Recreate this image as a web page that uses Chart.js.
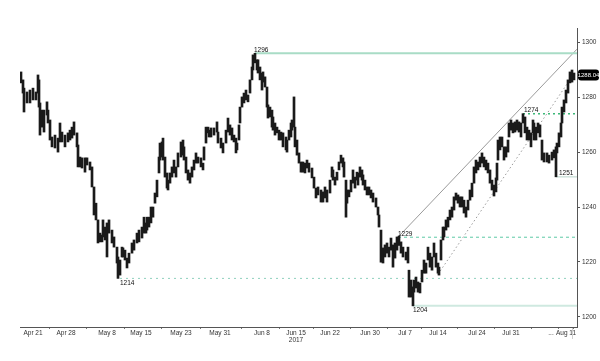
<!DOCTYPE html>
<html><head><meta charset="utf-8">
<script src="https://cdn.jsdelivr.net/npm/chart.js@4.4.1/dist/chart.umd.min.js"></script>
<style>html,body{margin:0;padding:0;background:#fff}canvas{display:block}</style>
</head><body>
<canvas id="c" width="600" height="361"></canvas>
<script>
// Gold, intraday ranges. sessionDay = trading days since 19 Apr 2017
const sessionDay = [
0.15,0.45,0.6,1.05,1.5,1.95,2.4,2.7,2.85,3.0,
3.3,3.6,4.05,4.2,4.5,4.8,5.25,5.7,6.0,6.3,
6.75,7.2,7.5,7.8,8.1,8.55,8.7,9.0,9.3,9.75,
10.05,10.5,10.8,11.1,11.4,11.7,12.0,12.3,12.45,12.75,
13.05,13.35,13.8,14.1,14.55,14.7,15.0,15.3,15.45,15.75,
16.05,16.35,16.8,17.1,17.55,17.85,18.3,18.6,18.9,19.05,
19.35,19.65,19.95,20.25,20.55,20.85,21.0,21.3,21.45,21.75,
22.05,22.2,22.5,22.8,23.1,23.4,23.7,24.15,24.45,24.6,
24.9,25.2,25.5,25.8,26.1,26.4,26.7,27.15,27.45,27.6,
27.9,28.2,28.35,28.65,29.1,29.55,29.7,30.15,30.45,30.9,
31.2,31.5,31.8,32.1,32.4,32.55,32.85,33.0,33.3,33.6,
33.9,34.2,34.5,34.8,34.95,35.25,35.55,35.7,36.0,36.3,
36.45,36.75,37.05,37.2,37.5,37.8,37.95,38.25,38.55,38.85,
39.15,39.45,39.9,40.05,40.35,40.65,40.8,41.1,41.25,41.55,
41.85,42.15,42.45,42.75,43.05,43.35,43.8,44.1,44.4,44.7,
45.15,45.45,45.75,46.05,46.5,46.8,46.95,47.25,47.55,47.85,
48.15,48.45,48.6,48.9,49.05,49.35,49.65,49.95,50.25,50.55,
50.7,51.0,51.3,51.45,51.75,52.05,52.35,52.65,52.95,53.4,
53.7,53.85,54.15,54.45,54.75,55.05,55.35,55.65,55.95,56.25,
56.55,56.85,57.15,57.45,57.9,58.2,58.35,58.65,58.95,59.1,
59.4,59.7,60.0,60.3,60.6,60.9,61.2,61.5,61.8,62.1,
62.4,62.7,62.85,63.15,63.45,63.6,63.9,64.2,64.5,64.8,
65.1,65.4,65.7,66.0,66.3,66.6,66.9,67.2,67.5,67.8,
68.1,68.4,68.7,69.0,69.3,69.6,69.9,70.2,70.5,70.8,
71.1,71.4,71.55,71.7,72.0,72.3,72.6,72.9,73.2,73.35,
73.65,73.95,74.25,74.55,74.85,75.15,75.45,75.75,76.05,76.35,
76.65,76.95,77.1,77.4,77.7,78.0,78.3,78.6,79.05,79.35,
79.8,80.1,80.4,80.55,80.85,81.15,81.3,81.6,81.9,82.2,
82.5,82.8,83.1];

const highs = [
1289.2,1286.3,1283.3,1281.9,1282.6,1283.3,1281.9,1288.1,1286.3,1277.9,
1275.3,1275.3,1278.3,1275.3,1271.7,1265.5,1266.2,1265.1,1270.6,1267.3,
1266.2,1267.0,1268.0,1269.1,1271.0,1267.0,1262.6,1258.2,1257.9,1257.9,
1257.9,1256.4,1254.6,1247.3,1241.4,1235.3,1230.5,1229.8,1235.3,1232.7,
1234.2,1235.3,1231.6,1229.1,1225.4,1221.8,1220.7,1225.4,1225.1,1224.3,
1221.4,1223.2,1226.9,1228.0,1230.5,1231.6,1232.7,1236.3,1234.2,1236.3,
1236.3,1240.0,1240.0,1245.1,1249.8,1258.2,1263.3,1263.7,1265.1,1258.2,
1252.4,1249.8,1252.4,1254.6,1257.1,1254.6,1259.7,1263.7,1264.4,1261.9,
1258.2,1253.5,1252.4,1254.6,1257.1,1259.7,1258.2,1257.9,1256.0,1261.9,
1269.1,1269.1,1268.0,1268.8,1268.8,1271.0,1267.3,1265.1,1263.3,1268.0,
1272.4,1269.9,1268.8,1266.2,1265.1,1263.3,1269.9,1276.4,1280.1,1281.5,
1282.6,1280.8,1286.3,1291.0,1295.4,1296.0,1293.6,1293.6,1291.0,1288.8,
1289.2,1287.4,1283.7,1277.2,1276.4,1275.3,1272.8,1270.6,1269.1,1268.0,
1267.3,1267.0,1265.5,1264.4,1268.0,1270.6,1271.7,1280.1,1269.1,1264.4,
1259.7,1256.4,1256.4,1256.0,1257.1,1256.0,1254.2,1250.9,1246.9,1247.3,
1246.2,1245.5,1247.3,1246.2,1249.8,1254.6,1253.5,1250.9,1252.7,1256.4,
1258.9,1257.9,1256.4,1249.8,1246.2,1246.2,1249.8,1253.5,1250.9,1252.7,
1252.4,1254.6,1253.5,1251.7,1249.8,1247.3,1247.3,1246.2,1245.1,1243.3,
1240.0,1237.1,1231.6,1225.1,1226.2,1226.9,1225.4,1228.7,1226.2,1226.9,
1229.1,1229.4,1227.3,1225.4,1223.6,1225.4,1217.0,1213.4,1210.9,1213.4,
1214.5,1212.7,1212.3,1217.0,1220.7,1219.6,1225.4,1223.2,1221.8,1226.9,
1223.2,1219.6,1218.1,1228.0,1232.7,1232.7,1235.3,1236.3,1238.9,1240.0,
1243.7,1245.1,1244.4,1243.7,1243.7,1242.5,1240.0,1242.5,1246.2,1248.7,
1254.6,1257.1,1256.4,1258.2,1259.7,1258.2,1257.1,1256.0,1253.5,1249.8,
1248.0,1250.6,1256.0,1264.4,1265.5,1265.5,1261.9,1261.9,1264.4,1270.6,
1271.7,1270.6,1271.0,1271.7,1271.0,1270.6,1274.0,1272.8,1269.1,1268.0,
1267.0,1271.7,1270.6,1269.1,1270.6,1269.9,1264.4,1259.7,1259.7,1258.9,
1260.0,1260.8,1261.9,1263.3,1267.0,1270.6,1276.4,1279.0,1282.6,1286.3,
1289.2,1289.9,1288.8];

const lows = [
1285.2,1281.5,1274.6,1277.9,1277.9,1279.0,1279.0,1281.5,1276.4,1266.2,
1269.1,1267.3,1273.5,1270.6,1264.4,1261.9,1261.5,1260.0,1263.7,1263.7,
1261.9,1263.7,1264.4,1265.1,1266.2,1261.9,1254.6,1254.6,1254.2,1252.7,
1255.3,1253.5,1247.3,1237.1,1235.3,1226.9,1227.3,1227.3,1229.1,1228.0,
1221.8,1230.5,1226.9,1225.4,1219.6,1214.0,1215.2,1221.8,1221.8,1220.7,
1217.8,1219.6,1223.2,1224.3,1226.9,1227.3,1228.7,1230.5,1230.5,1231.6,
1232.7,1234.2,1236.3,1241.4,1243.7,1252.4,1257.1,1258.2,1257.1,1250.9,
1246.9,1246.2,1248.7,1250.9,1252.4,1250.9,1254.6,1258.2,1258.9,1257.1,
1252.4,1249.8,1248.7,1250.9,1253.5,1256.0,1256.0,1254.6,1253.5,1257.1,
1263.3,1267.0,1265.5,1265.5,1266.2,1267.3,1263.3,1261.5,1259.7,1263.3,
1267.3,1266.2,1264.4,1263.7,1259.7,1260.8,1264.4,1270.6,1276.4,1277.9,
1279.0,1278.3,1281.5,1286.3,1289.9,1292.5,1289.9,1288.8,1286.3,1282.6,
1285.5,1283.7,1276.4,1272.4,1272.8,1269.1,1268.0,1266.2,1267.0,1264.4,
1264.4,1261.9,1260.8,1260.0,1264.4,1265.5,1268.0,1269.1,1261.9,1258.9,
1256.0,1252.7,1252.7,1252.4,1254.2,1252.7,1250.6,1246.9,1243.3,1244.4,
1241.8,1241.8,1243.3,1241.8,1245.1,1250.9,1249.8,1248.0,1249.8,1253.5,
1256.0,1254.6,1250.9,1236.3,1241.4,1243.7,1245.5,1248.7,1246.9,1249.8,
1248.0,1250.9,1249.8,1248.0,1246.2,1244.4,1244.4,1243.3,1241.8,1240.0,
1237.1,1232.7,1219.9,1219.6,1221.8,1223.2,1221.8,1224.3,1218.1,1221.4,
1224.3,1226.0,1223.2,1221.8,1220.7,1219.6,1207.2,1207.2,1204.0,1209.0,
1210.5,1209.0,1208.7,1212.7,1215.9,1215.9,1220.7,1218.1,1217.0,1221.8,
1218.1,1215.9,1215.2,1220.7,1228.0,1229.1,1231.6,1232.7,1235.3,1236.3,
1238.9,1242.5,1241.4,1240.0,1240.0,1237.8,1236.3,1238.9,1242.5,1243.7,
1248.7,1252.4,1253.5,1254.6,1256.0,1254.6,1253.5,1252.4,1248.7,1246.2,
1244.0,1245.5,1249.8,1257.1,1260.8,1261.9,1257.1,1258.2,1260.0,1265.5,
1268.0,1267.0,1267.3,1268.0,1267.3,1265.5,1270.6,1267.0,1264.4,1264.4,
1261.9,1267.0,1264.4,1264.4,1267.0,1265.5,1257.1,1256.4,1256.4,1256.0,
1257.1,1257.9,1251.0,1259.7,1261.9,1265.5,1270.6,1274.6,1277.9,1281.5,
1285.2,1285.5,1286.3];

const lastPrice = 1288.04;

// axis ticks
const dateTickDay = [1.95, 6.9, 13.05, 18.15, 24.15, 30.0, 36.3, 41.4, 46.5, 52.5, 57.75, 62.7, 68.55, 73.65, 79.65, 81.9];
const dateLabels  = ['Apr 21','Apr 28','May 8','May 15','May 23','May 31','Jun 8',['Jun 15','2017'],'Jun 22','Jun 30','Jul 7','Jul 14','Jul 24','Jul 31','...','Aug 11'];
const priceTicks  = [1200, 1220, 1240, 1260, 1280, 1300];

// support / resistance levels
const levelValues   = [1296, 1274, 1251, 1229, 1214, 1204];
const levelFromDay  = [35.25, 75.45, 80.4, 56.7, 15.0, 58.95];
const levelLabelDay = [35.1, 75.6, 80.85, 56.7, 15.0, 58.95];
const levelLabelAbove = [true, true, true, true, false, false];

// channel lines
const channelStartDay   = [56.85, 62.7];
const channelStartPrice = [1229.4, 1215.5];
const channelEndDay     = [83.55, 82.95];
const channelEndPrice   = [1297.5, 1288.0];

const X_MIN = 0, X_MAX = 83.55, Y_MIN = 1196.3, Y_MAX = 1305.2;

// styles
const levelColors = ['#a9dcc6', '#3cb878', '#cfe3dc', '#5ec9a5', '#8fd1be', '#cfe9e0'];
const levelDash   = [[], [2, 3], [], [3, 3], [2, 4], []];
const levelWidth  = [2, 1.5, 1.5, 1, 1, 2];
const channelColors = ['#9a9a9a', '#9a9a9a'];
const channelDash   = [[], [1.5, 2.5]];

const datasets = [];
levelValues.forEach((v, i) => {
  datasets.push({
    type: 'line',
    data: [{x: levelFromDay[i], y: v}, {x: X_MAX, y: v}],
    borderColor: levelColors[i], borderWidth: levelWidth[i], borderDash: levelDash[i],
    pointRadius: 0, fill: false, order: 2
  });
});
channelStartDay.forEach((d, i) => {
  datasets.push({
    type: 'line',
    data: [{x: d, y: channelStartPrice[i]}, {x: channelEndDay[i], y: channelEndPrice[i]}],
    borderColor: channelColors[i], borderWidth: 1, borderDash: channelDash[i],
    pointRadius: 0, fill: false, order: 2
  });
});
datasets.push({
  type: 'bar',
  data: sessionDay.map((d, i) => ({x: d, y: [lows[i], highs[i]]})),
  backgroundColor: '#1a1a1a', borderWidth: 0, barThickness: 2, grouped: false, order: 1
});

const FONT = 'Liberation Sans';

const annotPlugin = {
  id: 'annot',
  afterDatasetsDraw(chart) {
    const {ctx, scales: {x, y}, chartArea} = chart;
    ctx.save();
    ctx.font = '6.5px "' + FONT + '"';
    ctx.fillStyle = '#111';
    ctx.textAlign = 'left';
    levelValues.forEach((v, i) => {
      const px = x.getPixelForValue(levelLabelDay[i]);
      const py = y.getPixelForValue(v);
      if (levelLabelAbove[i]) { ctx.textBaseline = 'bottom'; ctx.fillText(String(v), px, py); }
      else { ctx.textBaseline = 'top'; ctx.fillText(String(v), px, py + 1.5); }
    });
    // last price tag
    const py = y.getPixelForValue(lastPrice);
    const bx = chartArea.right + 1, bw = 21, bh = 11;
    ctx.fillStyle = '#000';
    ctx.beginPath();
    if (ctx.roundRect) ctx.roundRect(bx, py - bh / 2, bw, bh, 3); else ctx.rect(bx, py - bh / 2, bw, bh);
    ctx.fill();
    ctx.fillStyle = '#fff';
    ctx.textAlign = 'center';
    ctx.textBaseline = 'middle';
    ctx.font = '6px "' + FONT + '"';
    ctx.fillText(lastPrice.toFixed(2), bx + bw / 2, py + 0.5);
    // last bar marker below axis
    const lx = Math.round(x.getPixelForValue(sessionDay[sessionDay.length - 1])) - 1.5;
    ctx.strokeStyle = '#cfcfcf';
    ctx.lineWidth = 1;
    ctx.beginPath();
    ctx.moveTo(lx, chartArea.bottom + 1);
    ctx.lineTo(lx, chartArea.bottom + 12);
    ctx.stroke();
    ctx.restore();
  }
};

new Chart(document.getElementById('c'), {
  type: 'bar',
  data: {datasets},
  options: {
    responsive: false, animation: false, devicePixelRatio: 1,
    layout: {padding: {left: 20, top: 28, right: 0, bottom: 0}},
    plugins: {legend: {display: false}, tooltip: {enabled: false}},
    scales: {
      x: {
        type: 'linear', min: X_MIN, max: X_MAX, offset: false,
        afterBuildTicks: s => { s.ticks = dateTickDay.map(v => ({value: v})); },
        afterFit: s => { s.height = 34; },
        ticks: {autoSkip: false, maxRotation: 0, minRotation: 0, padding: 0,
          font: {family: FONT, size: 6.5}, color: '#333', lineHeight: 1.05,
          callback: (v, i) => dateLabels[i]},
        grid: {display: true, drawOnChartArea: false, tickLength: 2, color: '#777'},
        border: {display: true, color: '#555', width: 1}
      },
      y: {
        type: 'linear', position: 'right', min: Y_MIN, max: Y_MAX,
        afterBuildTicks: s => { s.ticks = priceTicks.map(v => ({value: v})); },
        afterFit: s => { s.width = 23; },
        ticks: {padding: 2, font: {family: FONT, size: 6.5}, color: '#333', callback: v => String(v)},
        grid: {display: true, drawOnChartArea: false, tickLength: 3, color: '#555'},
        border: {display: true, color: '#555', width: 1}
      }
    }
  },
  plugins: [annotPlugin]
});
</script>
</body></html>
